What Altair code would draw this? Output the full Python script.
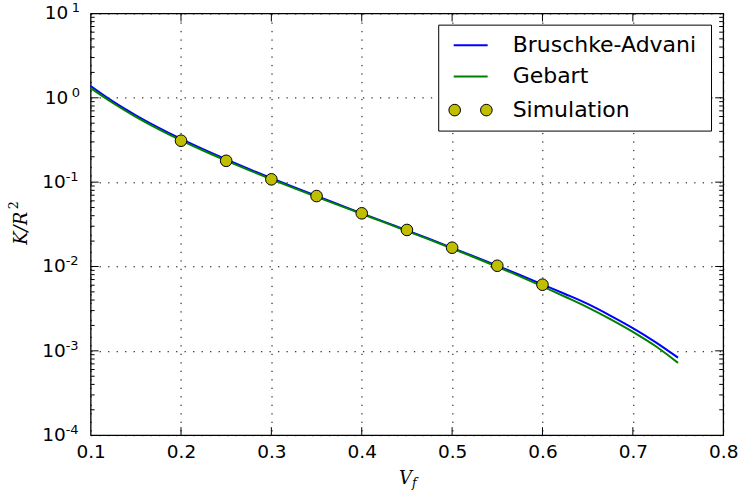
import altair as alt
import pandas as pd

# Fibre volume fraction grid for the two analytical permeability models
vf_model = [0.100, 0.125, 0.150, 0.175, 0.200, 0.225, 0.250, 0.275, 0.300,
            0.325, 0.350, 0.375, 0.400, 0.425, 0.450, 0.475, 0.500, 0.525,
            0.550, 0.575, 0.600, 0.625, 0.650, 0.675, 0.700, 0.725, 0.750]
k_bruschke = [1.38, 0.90, 0.620, 0.443, 0.325, 0.244, 0.186, 0.1430, 0.1112,
              0.0870, 0.0684, 0.0540, 0.0427, 0.0338, 0.0268, 0.02115, 0.01665,
              0.01305, 0.01020, 0.00795, 0.00612, 0.00472, 0.00360, 0.00262,
              0.00186, 0.00127, 0.00083]
k_gebart = [1.30, 0.862, 0.594, 0.4253, 0.313, 0.2355, 0.180, 0.1389, 0.1083,
            0.0850, 0.0670, 0.0530, 0.0420, 0.0333, 0.02635, 0.02081, 0.01636,
            0.01279, 0.00994, 0.00765, 0.00582, 0.004375, 0.00328, 0.00238,
            0.00168, 0.00114, 0.00072]

# Simulated permeabilities
vf_sim = [0.20, 0.25, 0.30, 0.35, 0.40, 0.45, 0.50, 0.55, 0.60]
k_sim = [0.310, 0.179, 0.108, 0.0684, 0.0427, 0.0271, 0.0167, 0.0102, 0.00608]

series_names = ["Bruschke-Advani", "Gebart", "Simulation"]
series_colors = ["#0000ff", "#008000", "#bfbf00"]

x_ticks = [0.1, 0.2, 0.3, 0.4, 0.5, 0.6, 0.7, 0.8]
decade_exps = [-4, -3, -2, -1, 0, 1]
minor_mults = [2, 3, 4, 5, 6, 7, 8, 9]

W, H = 633, 422
FONT = "DejaVu Sans"
MATH = "DejaVu Serif"
DASH = [1.3, 7.2]

x_scale = alt.Scale(domain=[0.1, 0.8], nice=False, zero=False)
y_scale = alt.Scale(type="log", domain=[1e-4, 10], nice=False)

curves = pd.DataFrame({
    "vf": vf_model * 2,
    "k": k_bruschke + k_gebart,
    "series": [series_names[0]] * len(vf_model) + [series_names[1]] * len(vf_model),
})
sim = pd.DataFrame({"vf": vf_sim, "k": k_sim})
decades = pd.DataFrame({"e": decade_exps, "v": [10.0 ** e for e in decade_exps]})
minors = pd.DataFrame({"v": [m * 10.0 ** e for e in decade_exps[:-1] for m in minor_mults]})
xt = pd.DataFrame({"vf": x_ticks})
one = pd.DataFrame({"d": [0]})

x_axis = alt.Axis(values=x_ticks, format=".1f", grid=True, gridDash=DASH,
                  gridColor="black", gridWidth=1, gridOpacity=1, ticks=False,
                  tickSize=0, domain=False, labelFont=FONT, labelFontSize=18.5,
                  labelColor="black", labelPadding=22, labelBaseline="alphabetic",
                  labelFlush=False, labelOverlap=False, title=None)
y_axis = alt.Axis(values=[10.0 ** e for e in decade_exps], grid=True, gridDash=DASH,
                  gridColor="black", gridWidth=1, gridOpacity=1, labels=False,
                  ticks=False, tickSize=0, domain=False, title=None)

X = alt.X("vf:Q", scale=x_scale, axis=x_axis)
Y = alt.Y("k:Q", scale=y_scale, axis=y_axis)
YV = alt.Y("v:Q", scale=y_scale, axis=y_axis)

lines = alt.Chart(curves).mark_line(strokeWidth=2, interpolate="monotone").encode(
    x=X, y=Y,
    color=alt.Color("series:N", scale=alt.Scale(domain=series_names[:2],
                                                range=series_colors[:2]), legend=None),
    detail="series:N",
)
points = alt.Chart(sim).mark_point(shape="circle", filled=True, size=135,
                                   fill=series_colors[2], stroke="black",
                                   strokeWidth=1, opacity=1).encode(x=X, y=Y)

# Inward-pointing ticks on all four sides
tick_style = dict(color="black", strokeWidth=1)
inner = decades[(decades.e > -4) & (decades.e < 1)]
ticks = [
    alt.Chart(minors).mark_rule(**tick_style).encode(y=YV, x=alt.value(0), x2=alt.value(4)),
    alt.Chart(minors).mark_rule(**tick_style).encode(y=YV, x=alt.value(W - 4), x2=alt.value(W)),
    alt.Chart(inner).mark_rule(**tick_style).encode(y=YV, x=alt.value(0), x2=alt.value(8)),
    alt.Chart(inner).mark_rule(**tick_style).encode(y=YV, x=alt.value(W - 8), x2=alt.value(W)),
    alt.Chart(xt.iloc[1:-1]).mark_rule(**tick_style).encode(
        x=X, y=alt.value(H - 8), y2=alt.value(H)),
    alt.Chart(xt.iloc[1:-1]).mark_rule(**tick_style).encode(
        x=X, y=alt.value(0), y2=alt.value(8)),
]

# Log-axis labels written as 10 with a raised exponent
ylab = alt.Chart(decades).transform_calculate(
    base="'10'", ex="toString(datum.e)")
neg = "datum.e < 0"
pos = "datum.e >= 0"
base_style = dict(font=FONT, fontSize=18.5, color="black", align="right",
                  baseline="alphabetic", dy=6)
exp_style = dict(font=FONT, fontSize=13, color="black", align="left",
                 baseline="alphabetic", dy=-1)
ylabels = [
    ylab.transform_filter(neg).mark_text(**base_style).encode(
        y=YV, x=alt.value(-25), text="base:N"),
    ylab.transform_filter(neg).mark_text(**exp_style).encode(
        y=YV, x=alt.value(-25), text="ex:N"),
    ylab.transform_filter(pos).mark_text(**base_style).encode(
        y=YV, x=alt.value(-22.5), text="base:N"),
    ylab.transform_filter(pos).mark_text(**exp_style).encode(
        y=YV, x=alt.value(-19), text="ex:N"),
]

# Axis titles: V_f and K/R^2
titles = [
    alt.Chart(one).mark_text(text="V", font=MATH, fontStyle="italic", fontSize=18,
                             align="right", baseline="alphabetic", color="black").encode(
        x=alt.value(W / 2 + 5), y=alt.value(H + 49)),
    alt.Chart(one).mark_text(text="f", font=MATH, fontStyle="italic", fontSize=12.6,
                             align="left", baseline="alphabetic", color="black").encode(
        x=alt.value(W / 2 + 5), y=alt.value(H + 52)),
    alt.Chart(one).mark_text(text="K/R", font=MATH, fontStyle="italic", fontSize=18,
                             angle=270, align="center", baseline="alphabetic",
                             color="black").encode(x=alt.value(-63.5), y=alt.value(H / 2 + 4)),
    alt.Chart(one).mark_text(text="2", font=MATH, fontSize=12.6, angle=270,
                             align="center", baseline="alphabetic",
                             color="black").encode(x=alt.value(-72.5), y=alt.value(H / 2 - 19)),
]

# Legend box in the upper right corner
LX0, LX1, LY0, LY1 = 348.3, 621.3, 11.7, 117.7
rows = [31.7, 63.2, 96.7]
legend = [
    alt.Chart(one).mark_rect(fill="white", stroke="black", strokeWidth=1).encode(
        x=alt.value(LX0), x2=alt.value(LX1), y=alt.value(LY0), y2=alt.value(LY1)),
    alt.Chart(one).mark_rule(color=series_colors[0], strokeWidth=2).encode(
        x=alt.value(363.3), x2=alt.value(397.3), y=alt.value(rows[0])),
    alt.Chart(one).mark_rule(color=series_colors[1], strokeWidth=2).encode(
        x=alt.value(363.3), x2=alt.value(397.3), y=alt.value(rows[1])),
    alt.Chart(one).mark_point(shape="circle", filled=True, size=135, fill=series_colors[2],
                              stroke="black", strokeWidth=1, opacity=1).encode(
        x=alt.value(364.3), y=alt.value(rows[2])),
    alt.Chart(one).mark_point(shape="circle", filled=True, size=135, fill=series_colors[2],
                              stroke="black", strokeWidth=1, opacity=1).encode(
        x=alt.value(396.0), y=alt.value(rows[2])),
]
for name, ry in zip(series_names, rows):
    legend.append(alt.Chart(one).mark_text(text=name, font=FONT, fontSize=22, align="left",
                                           baseline="alphabetic", color="black").encode(
        x=alt.value(422.3), y=alt.value(ry + 6.5)))

chart = alt.layer(lines, points, *ticks, *ylabels, *titles, *legend).properties(
    width=W, height=H,
    background="white",
    autosize=alt.AutoSizeParams(type="none"),
    padding={"left": 90.7, "top": 13.3, "right": 16.8, "bottom": 59.7},
).configure_view(stroke="black", strokeWidth=1.3)

chart.save("out.html", embed_options={"renderer": "svg", "actions": False})
